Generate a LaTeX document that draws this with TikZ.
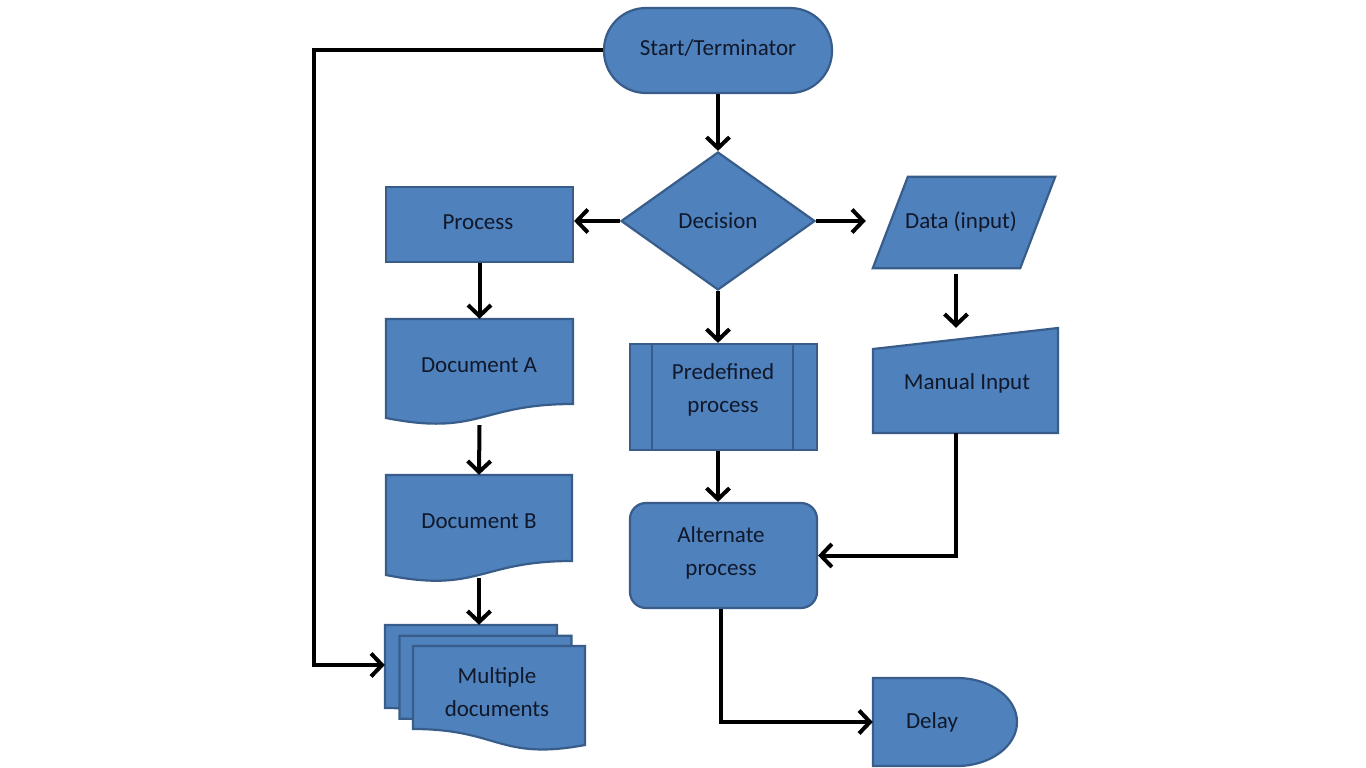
\documentclass[tikz,border=0pt]{standalone}
\usepackage{fontspec}
\setmainfont{Carlito}
\usetikzlibrary{arrows.meta,shapes.geometric,calc}
\definecolor{fcol}{RGB}{79,129,189}
\definecolor{bcol}{RGB}{56,93,138}
\definecolor{tcol}{RGB}{16,24,42}
\newcommand\lbfont{\fontsize{23}{33}\selectfont}
\begin{document}
\begin{tikzpicture}[x=1pt,y=-1pt,
  shapebox/.style={fill=fcol, draw=bcol, line width=2.2pt},
  bounds/.style={draw=none, fill=none, inner sep=0pt, rectangle},
  lbl/.style={font=\lbfont, text=tcol, align=center, inner sep=0pt},
  arr/.style={draw=black, line width=4pt, -{Straight Barb[length=11pt,width=23pt]}}
]
\fill[white] (0,0) rectangle (1366,768);
\useasboundingbox (0,0) rectangle (1366,768);

% ---------- shapes ----------
\node[shapebox, rectangle, rounded corners=42pt, minimum width=228pt, minimum height=85pt] (term) at (718,50.5) {};
\node[shapebox, diamond, inner sep=0pt, minimum width=194pt, minimum height=138pt] (dec) at (718,221) {};
\node[shapebox, rectangle, minimum width=187pt, minimum height=75pt] (proc) at (479.5,224.5) {};

\node[bounds, minimum width=182pt, minimum height=91pt] (data) at (964,222.5) {};
\draw[shapebox] ([xshift=35pt]data.north west) -- (data.north east) -- ([xshift=-35pt]data.south east) -- (data.south west) -- cycle;

\node[bounds, minimum width=187pt, minimum height=106pt] (docA) at (479.5,372) {};
\draw[shapebox] (386,319) -- (573,319) -- (573,404) .. controls (479.5,404) and (479.5,436.4) .. (386,418) -- cycle;

\node[bounds, minimum width=186pt, minimum height=107pt] (docB) at (479,528.5) {};
\draw[shapebox] (386,475) -- (572,475) -- (572,561) .. controls (479,561) and (479,593.6) .. (386,575) -- cycle;

\node[bounds, minimum width=200pt, minimum height=125pt] (multi) at (485,687.5) {};
\draw[shapebox] (557,625) -- (385,625) -- (385,708) .. controls (471,708) and (471,740) .. (557,724) -- cycle;
\draw[shapebox] (571.5,635.7) -- (399.5,635.7) -- (399.5,718.7) .. controls (485.5,718.7) and (485.5,750.7) .. (571.5,734.7) -- cycle;
\draw[shapebox] (585,646) -- (413,646) -- (413,729) .. controls (499,729) and (499,761) .. (585,745) -- cycle;

\node[shapebox, rectangle, minimum width=187pt, minimum height=106pt] (pre) at (723.5,397) {};
\draw[bcol, line width=2.2pt] ([xshift=23pt]pre.north west) -- ([xshift=23pt]pre.south west);
\draw[bcol, line width=2.2pt] ([xshift=-25pt]pre.north east) -- ([xshift=-25pt]pre.south east);

\node[shapebox, rectangle, rounded corners=16pt, minimum width=187pt, minimum height=105pt] (alt) at (723.5,555.5) {};

\node[bounds, minimum width=185pt, minimum height=105pt] (mi) at (965.5,380.5) {};
\draw[shapebox] (873,349) -- (1058,328) -- (1058,433) -- (873,433) -- cycle;

\node[bounds, minimum width=144pt, minimum height=88pt] (delay) at (945,722) {};
\draw[shapebox] (873,678) -- (957,678) .. controls (990.1,678) and (1017,697.7) .. (1017,722)
  .. controls (1017,746.3) and (990.1,766) .. (957,766) -- (873,766) -- cycle;

% ---------- connectors ----------
\coordinate (loopx) at (314,48);
\draw[arr] (term.south) -- (dec.north);
\draw[arr] (dec.west) -- (dec.west -| proc.east);
\draw[arr] (dec.east) -- ([xshift=-7pt]dec.east -| data.west);
\draw[arr] (proc.south) -- (docA.north);
\draw[arr] (docA.south) -- (docB.north);
\draw[arr] ([yshift=4pt]docB.south) -- (docB.south |- multi.north);
\draw[arr] (term.west) -- (term.west -| loopx) |- ([yshift=22.5pt]multi.west);
\draw[arr] (dec.south) -- (dec.south |- pre.north);
\draw[arr] (dec.south |- pre.south) -- (dec.south |- alt.north);
\draw[arr] ([xshift=-8pt,yshift=-6pt]data.south) -- ([xshift=-8pt]data.south |- mi.north);
\draw[arr] ([xshift=-9.5pt]mi.south) |- (alt.east);
\draw[arr] ([xshift=-3pt]alt.south) |- (delay.west);

% ---------- labels ----------
\node[lbl] (termt) at (718,48) {Start/Terminator};
\node[lbl] (dect) at (718,221) {Decision};
\node[lbl] (proct) at (478,222) {Process};
\node[lbl] (datat) at (961,222) {Data (input)};
\node[lbl] (docAt) at (479,365) {Document A};
\node[lbl] (docBt) at (479,521) {Document B};
\node[lbl] (multit) at (497,692) {Multiple\\documents};
\node[lbl] (pret) at (723,390) {Predefined\\process};
\node[lbl] (altt) at (721,553) {Alternate\\process};
\node[lbl] (mit) at (967,383) {Manual Input};
\node[lbl] (delayt) at (932,722) {Delay};
\end{tikzpicture}
\end{document}
